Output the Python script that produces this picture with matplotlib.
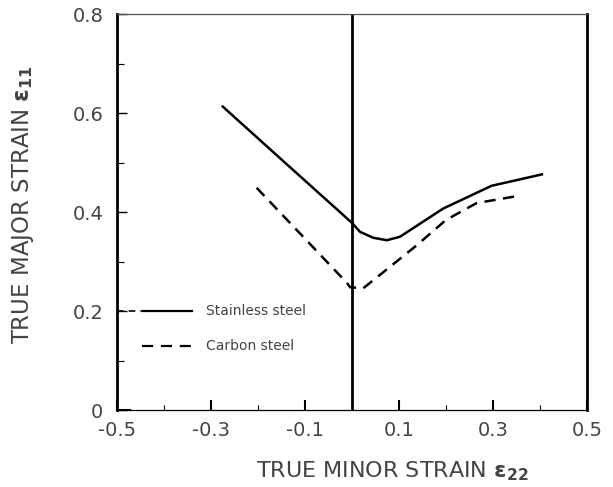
import matplotlib.pyplot as plt
from matplotlib.ticker import MultipleLocator

# stainless steel (solid)
ss_x = [-0.275, -0.15, 0.0, 0.017, 0.045, 0.074, 0.102, 0.194, 0.297, 0.404]
ss_y = [0.613, 0.506, 0.378, 0.360, 0.348, 0.343, 0.350, 0.407, 0.453, 0.476]

# carbon steel (dashed)
cs_x = [-0.203, -0.011, -0.004, 0.024, 0.138, 0.200, 0.265, 0.350]
cs_y = [0.449, 0.257, 0.248, 0.246, 0.333, 0.384, 0.418, 0.432]

xticks = [-0.5, -0.3, -0.1, 0.1, 0.3, 0.5]
yticks = [0, 0.2, 0.4, 0.6, 0.8]
yticklabels = ['0', '0.2', '0.4', '0.6', '0.8']

plt.rcParams['font.family'] = ['DejaVu Sans']
plt.rcParams['mathtext.fontset'] = 'dejavusans'
txt = '#444444'

fig = plt.figure(figsize=(6.13, 4.87), dpi=100)
ax = fig.add_axes([0.1909, 0.1581, 0.7667, 0.8131])

ax.plot(ss_x, ss_y, color='black', lw=1.8, solid_joinstyle='round')
ax.plot(cs_x, cs_y, color='black', lw=1.8, dashes=(4.5, 3))
ax.axvline(0, color='black', lw=2.0)

# legend drawn by hand like the original
ax.plot([-0.5, -0.447], [0.2, 0.2], color='black', lw=1.2, dashes=(4, 3))
ax.plot([-0.445, -0.34], [0.2, 0.2], color='black', lw=1.6)
ax.plot([-0.447, -0.34], [0.13, 0.13], color='black', lw=1.6, dashes=(5, 3.5))
ax.text(-0.31, 0.2, 'Stainless steel', fontsize=10, color=txt, va='center')
ax.text(-0.31, 0.13, 'Carbon steel', fontsize=10, color=txt, va='center')
ax.plot([-0.5, -0.475], [0, 0], color='black', lw=2.2)

ax.set_xlim(-0.5, 0.5)
ax.set_ylim(0, 0.8)
ax.set_xticks(xticks)
ax.set_xticklabels([f'{v:.1f}' for v in xticks])
ax.xaxis.set_minor_locator(MultipleLocator(0.1))
ax.set_yticks(yticks)
ax.set_yticklabels(yticklabels)
ax.yaxis.set_minor_locator(MultipleLocator(0.1))

ax.tick_params(axis='x', which='major', direction='in', length=7, width=1.5,
               pad=8, labelsize=14, labelcolor=txt)
ax.tick_params(axis='x', which='minor', direction='in', length=3.5, width=0.8)
ax.tick_params(axis='y', which='major', direction='in', length=7, width=1.0,
               pad=10, labelsize=14, labelcolor=txt)
ax.tick_params(axis='y', which='minor', direction='in', length=5, width=0.8)

for side in ['left', 'right']:
    ax.spines[side].set_linewidth(2.0)
ax.spines['bottom'].set_linewidth(0.9)
ax.spines['top'].set_linewidth(0.9)
ax.spines['top'].set_color('#555555')

ax.set_xlabel(r'TRUE MINOR STRAIN $\mathbf{\varepsilon_{22}}$', fontsize=16,
              color=txt)
ax.xaxis.set_label_coords(0.585, -0.125)
ax.set_ylabel(r'TRUE MAJOR STRAIN $\mathbf{\varepsilon_{11}}$', fontsize=16.5,
              color=txt)
ax.yaxis.set_label_coords(-0.172, 0.52)

fig.savefig('out.png', dpi=100)
